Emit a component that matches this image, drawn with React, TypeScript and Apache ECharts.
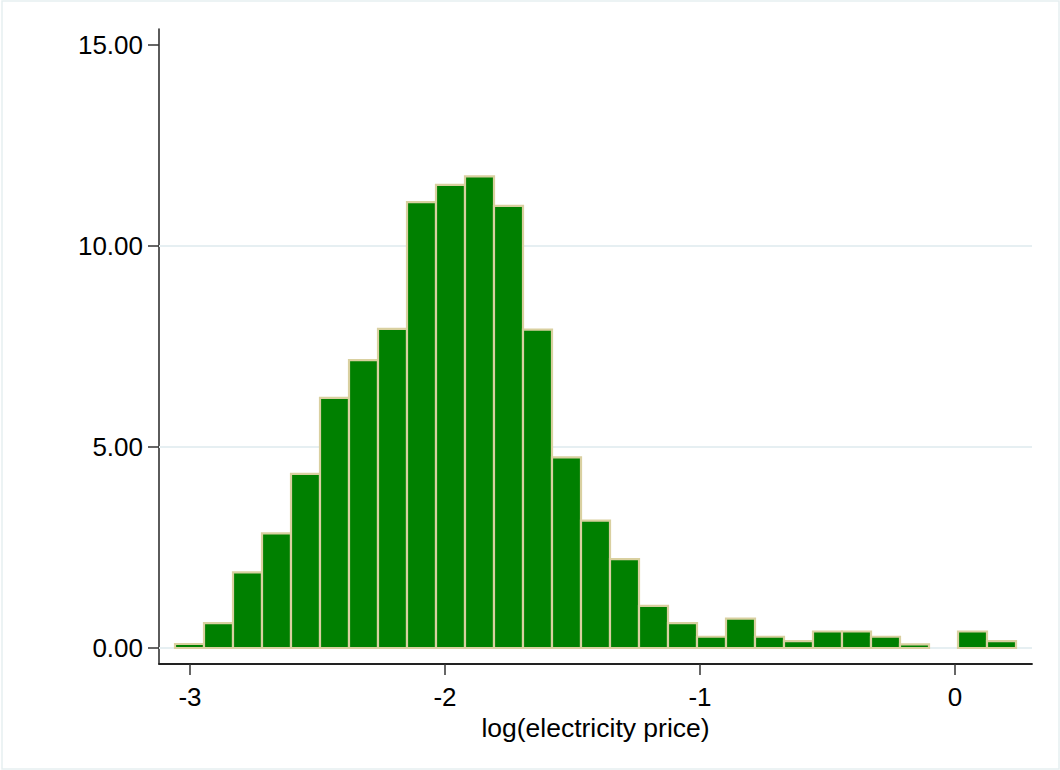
import React, { useEffect, useRef } from "react";
import * as echarts from "echarts";

// Histogram bins (density) of log(electricity price)
const binStart = -3.0588;
const binWidth = 0.113725;
const densities = [
  0.1, 0.62, 1.88, 2.85, 4.33, 6.22, 7.16, 7.94, 11.09, 11.52, 11.73, 11.0, 7.92, 4.74,
  3.17, 2.21, 1.05, 0.62, 0.28, 0.73, 0.28, 0.17, 0.41, 0.41, 0.28, 0.09, 0, 0.41, 0.17,
];
const xTicks = [-3, -2, -1, 0];
const yTicks = [0, 5, 10, 15];
const gridValues = [0, 5, 10];

const FONT = "'Liberation Sans', Arial, Helvetica, sans-serif";

export default function App() {
  const ref = useRef<HTMLDivElement>(null);
  useEffect(() => {
    document.body.style.margin = "0";
    if (!ref.current) return;
    const chart = echarts.init(ref.current, null, { renderer: "svg" });
    const barData = densities.map((d, i) => [
      binStart + i * binWidth,
      binStart + (i + 1) * binWidth,
      d,
    ]);
    const option: any = {
      animation: false,
      backgroundColor: "#ffffff",
      graphic: [
        {
          type: "rect",
          shape: { x: 2, y: 1, width: 1057, height: 768 },
          style: { fill: "none", stroke: "#e6eff1", lineWidth: 1.5 },
          silent: true,
        },
      ],
      grid: { left: 159, right: 28, top: 29, bottom: 106 },
      xAxis: {
        type: "value",
        min: -3.12157,
        max: 0.30196,
        name: "log(electricity price)",
        nameLocation: "middle",
        nameGap: 43,
        nameTextStyle: { fontSize: 26.5, color: "#000", fontFamily: FONT },
        axisLine: { show: true, onZero: false, lineStyle: { color: "#222", width: 1.8 } },
        axisTick: {
          show: true,
          length: 11,
          customValues: xTicks,
          lineStyle: { color: "#333", width: 1.5 },
        },
        axisLabel: {
          customValues: xTicks,
          margin: 20,
          fontSize: 26,
          color: "#000",
          fontFamily: FONT,
          formatter: (v: number) => String(v),
        },
        splitLine: { show: false },
      },
      yAxis: {
        type: "value",
        min: -0.398,
        max: 15.398,
        axisLine: { show: true, onZero: false, lineStyle: { color: "#333", width: 1.6 } },
        axisTick: {
          show: true,
          length: 11,
          customValues: yTicks,
          lineStyle: { color: "#333", width: 1.5 },
        },
        axisLabel: {
          customValues: yTicks,
          margin: 16,
          fontSize: 26,
          color: "#000",
          fontFamily: FONT,
          formatter: (v: number) => v.toFixed(2),
        },
        splitLine: { show: false },
      },
      series: [
        {
          type: "custom",
          z: 1,
          silent: true,
          data: gridValues.map((v) => [v]),
          encode: { y: 0 },
          renderItem: (params: any, api: any) => {
            const v = api.value(0);
            const cs = params.coordSys;
            const p = api.coord([0, v]);
            return {
              type: "line",
              shape: { x1: cs.x, y1: p[1], x2: cs.x + cs.width, y2: p[1] },
              style: { stroke: "#e6eff2", lineWidth: 2 },
            };
          },
        },
        {
          type: "custom",
          z: 3,
          data: barData,
          encode: { x: [0, 1], y: 2 },
          renderItem: (params: any, api: any) => {
            const x0 = api.value(0);
            const x1 = api.value(1);
            const v = api.value(2);
            if (!v) return null;
            const p0 = api.coord([x0, 0]);
            const p1 = api.coord([x1, v]);
            return {
              type: "rect",
              shape: {
                x: p0[0],
                y: p1[1],
                width: p1[0] - p0[0],
                height: p0[1] - p1[1],
              },
              style: { fill: "#008000", stroke: "#d9d0a0", lineWidth: 2.2 },
            };
          },
        },
      ],
    };
    chart.setOption(option);
    return () => chart.dispose();
  }, []);
  return <div ref={ref} style={{ width: 1060, height: 770 }} />;
}
